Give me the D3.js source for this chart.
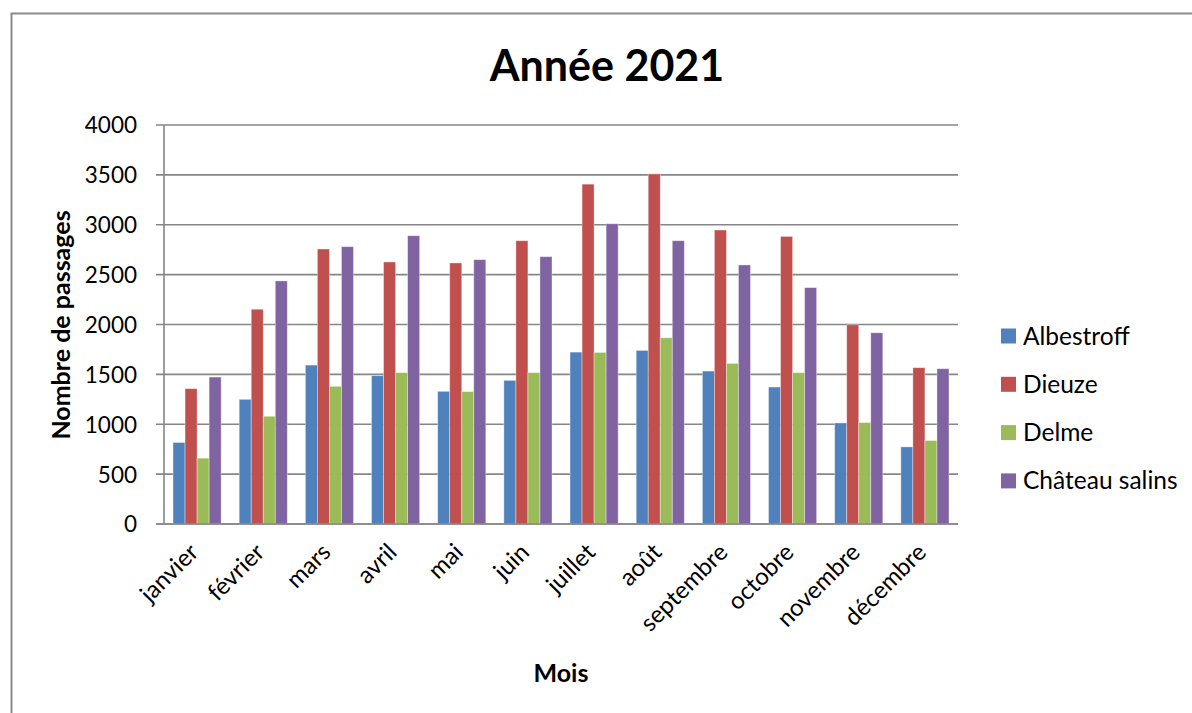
<!DOCTYPE html>
<html><head><meta charset="utf-8">
<script src="https://cdn.jsdelivr.net/npm/d3@7"></script>
<style>body{margin:0;background:#fff}svg{display:block}text{font-family:Lato,"Open Sans",sans-serif;fill:#000}</style>
</head><body><svg id="c" width="1192" height="713"></svg>
<script>
const months=["janvier","février","mars","avril","mai","juin","juillet","août","septembre","octobre","novembre","décembre"];
const seriesNames=["Albestroff","Dieuze","Delme","Château salins"];
const albestroff=[817,1250,1593,1487,1330,1440,1723,1740,1533,1373,1013,773];
const dieuze=[1357,2153,2757,2627,2617,2840,3407,3510,2947,2883,1997,1567];
const delme=[660,1080,1380,1517,1327,1517,1720,1867,1610,1517,1017,837];
const chateau=[1473,2437,2780,2890,2650,2680,3010,2840,2597,2370,1917,1557];
const yTicks=[0,500,1000,1500,2000,2500,3000,3500,4000];
const colors=["#4F81BD","#C0504D","#9BBB59","#8064A2"];
const values=[albestroff,dieuze,delme,chateau];

const svg=d3.select("#c");
svg.append("rect").attr("x",11.5).attr("y",13.5).attr("width",1200).attr("height",720).attr("fill","none").attr("stroke","#8a8a8a").attr("stroke-width",2);

const L=164,R=958,T=125,B=524;
const x=d3.scaleBand().domain(months).range([L,R]).paddingInner(0.2727).paddingOuter(0.1364);
const xs=d3.scaleBand().domain(seriesNames).range([0,x.bandwidth()]);
const y=d3.scaleLinear().domain([0,4000]).range([B,T]);

svg.append("g").selectAll("line").data(yTicks).join("line")
 .attr("x1",L-8).attr("x2",R).attr("y1",d=>y(d)).attr("y2",d=>y(d))
 .attr("stroke","#868686").attr("stroke-width",1.6);
svg.append("line").attr("x1",L).attr("x2",L).attr("y1",T).attr("y2",B).attr("stroke","#868686").attr("stroke-width",1.6);

const yAxis=d3.axisLeft(y).tickValues(yTicks).tickFormat(d3.format("d")).tickSize(0).tickPadding(0);
const ga=svg.append("g").attr("transform",`translate(${L-27},0)`).call(yAxis);
ga.select(".domain").remove();
ga.selectAll("text").attr("font-size",22.5).attr("dy","0.35em").style("font-family","Lato,sans-serif");

const g=svg.append("g");
months.forEach((m,i)=>{
  seriesNames.forEach((s,j)=>{
    g.append("rect").attr("x",x(m)+xs(s)).attr("width",xs.bandwidth()).attr("y",y(values[j][i])).attr("height",B-y(values[j][i]))
     .attr("fill",colors[j]).attr("stroke","rgba(255,255,255,0.45)").attr("stroke-width",0.8);
  });
});
svg.append("line").attr("x1",L-8).attr("x2",R).attr("y1",B).attr("y2",B).attr("stroke","#868686").attr("stroke-width",1.6);

const xAxis=d3.axisBottom(x).tickSize(0);
const gx=svg.append("g").attr("transform",`translate(0,${B})`).call(xAxis);
gx.select(".domain").remove();
gx.selectAll("text").attr("font-size",24).attr("text-anchor","end").style("font-family","Lato,sans-serif")
 .attr("transform","translate(-10,17) rotate(-45)").attr("dy","0.75em").attr("y",0).attr("x",0);

svg.append("text").attr("x",607).attr("y",81).attr("text-anchor","middle").attr("font-size",43).attr("font-weight","bold").text("Année 2021");
svg.append("text").attr("transform","translate(70,325) rotate(-90)").attr("text-anchor","middle").attr("font-size",25).attr("font-weight","bold").text("Nombre de passages");
svg.append("text").attr("x",561).attr("y",682).attr("text-anchor","middle").attr("font-size",25).attr("font-weight","bold").text("Mois");

const lg=svg.append("g");
seriesNames.forEach((s,j)=>{
  const cy=336+j*48.3;
  lg.append("rect").attr("x",1001).attr("y",cy-7.5).attr("width",15).attr("height",15).attr("fill",colors[j]);
  lg.append("text").attr("x",1023).attr("y",cy).attr("dy","0.35em").attr("font-size",24.5).text(s);
});
</script></body></html>
